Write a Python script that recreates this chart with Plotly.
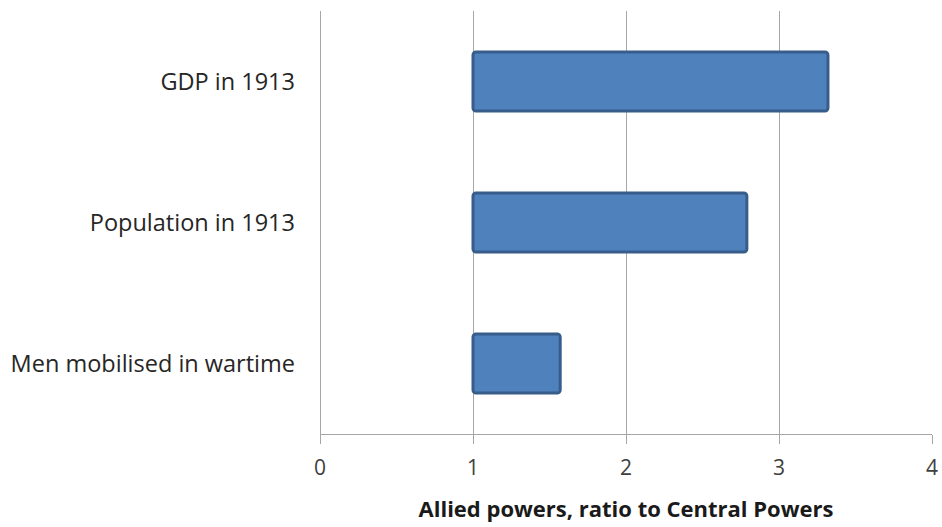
import plotly.graph_objects as go

# Allied powers relative to Central Powers (ratio, 1 = parity)
categories = ["GDP in 1913", "Population in 1913", "Men mobilised in wartime"]
ratios = [3.32, 2.79, 1.57]
parity = 1.0
x_ticks = [0, 1, 2, 3, 4]

# bars run from parity (1) out to each ratio
lengths = [r - parity for r in ratios]

fig = go.Figure(
    go.Bar(
        y=categories,
        x=lengths,
        base=[parity] * len(ratios),
        orientation="h",
        width=0.42,
        marker=dict(
            color="#4F81BD",
            line=dict(color="#385D8A", width=3),
            cornerradius=3,
        ),
        hovertemplate="%{y}: %{customdata:.2f}<extra></extra>",
        customdata=ratios,
    )
)

grid = "#A6A6A6"
fig.update_layout(
    width=942,
    height=527,
    margin=dict(l=320, r=10, t=11, b=93, autoexpand=False),
    paper_bgcolor="white",
    plot_bgcolor="white",
    showlegend=False,
    font=dict(family="'Open Sans', sans-serif", color="#404040"),
    xaxis=dict(
        range=[0, 4],
        tickvals=x_ticks,
        automargin=False,
        showgrid=True,
        gridcolor=grid,
        gridwidth=1,
        zeroline=True,
        zerolinecolor=grid,
        zerolinewidth=1,
        showline=True,
        linecolor=grid,
        linewidth=1,
        ticks="outside",
        ticklen=9,
        tickcolor=grid,
        tickfont=dict(size=21, color="#404040"),
        ticklabelstandoff=6,
        title=dict(
            text="<b>Allied powers, ratio to Central Powers</b>",
            font=dict(size=22, color="#1a1a1a"),
            standoff=21,
        ),
        fixedrange=True,
    ),
    yaxis=dict(
        categoryorder="array",
        categoryarray=categories[::-1],
        automargin=False,
        showgrid=False,
        zeroline=False,
        showline=False,
        ticks="",
        tickfont=dict(size=23.5, color="#262626"),
        ticklabelstandoff=24,
        fixedrange=True,
    ),
)

fig.write_html("out.html")
